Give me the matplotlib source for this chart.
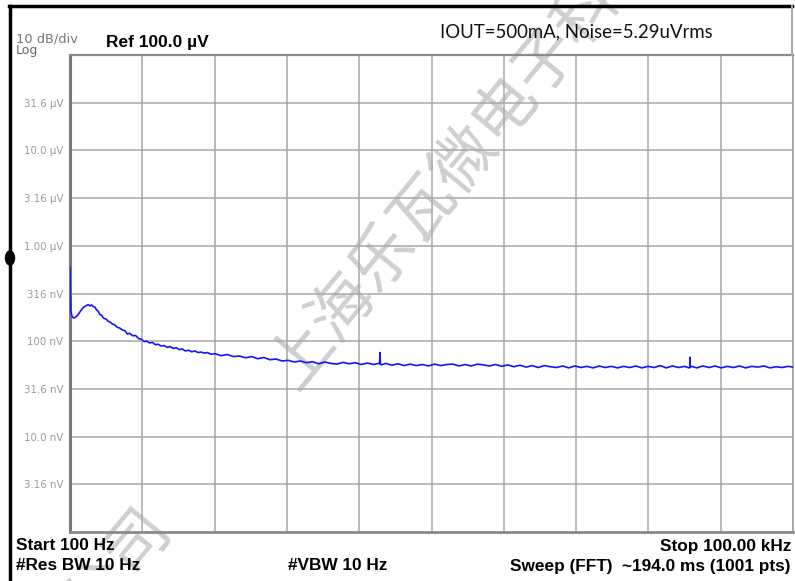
import matplotlib
matplotlib.use("Agg")
import matplotlib.pyplot as plt
from matplotlib.lines import Line2D
from matplotlib.patches import Ellipse

# Dane: częstotliwość [Hz] i poziom szumu [nV]
freq_hz = [
    100, 100.4, 100.9, 102, 103.5, 105, 107, 109, 111, 113, 115, 117, 119,
    121, 123, 125, 127, 129, 131, 133, 135, 138, 141, 144, 147, 150, 153,
    157, 161, 165, 169, 173, 177, 182, 187, 193, 198, 203, 208, 214, 220,
    226, 232, 239, 246, 253, 260, 268, 276, 284, 292, 301, 310, 320, 330,
    340, 350, 361, 372, 384,
    400, 424, 450, 477, 505, 535, 567, 601, 637, 675, 716, 759, 804, 852,
    903, 957, 1015, 1076, 1140, 1209, 1281, 1358, 1440, 1526, 1618, 1715,
    1818, 1905, 1925, 1933, 1941, 1960, 2043, 2165, 2295, 2433, 2579, 2734,
    2898, 3072, 3256, 3451, 3658, 3878, 4110, 4357, 4619, 4896, 5190, 5501,
    5831, 6181, 6552, 6945, 7362, 7803, 8272, 8768, 9294, 9852, 10440,
    11070, 11730, 12440, 13180, 13970, 14810, 15700, 16640, 17640, 18700,
    19820, 21010, 22270, 23610, 25020, 26520, 28120, 29800, 31590, 33490,
    35500, 37000, 37300, 37380, 37460, 38000, 39890, 42280, 44820, 47510,
    50360, 53380, 56580, 59980, 63580, 67390, 71430, 75720, 80260, 85080,
    90180, 95600, 100000,
]
noise_nv = [
    600, 300, 205, 182, 175, 177, 185, 196, 210, 222, 231, 237, 242,
    234, 240, 230, 227, 212, 206, 190, 188, 174, 171, 162, 158, 151, 149,
    140, 137, 131, 129, 119, 121, 114, 115, 106, 105, 99, 100, 96, 97,
    92, 93, 89, 90, 86, 88, 84, 85.5, 81.5, 83, 79, 80.5, 77.5, 79,
    76, 77, 75, 76, 73,
    74, 70.5, 72.5, 69, 70, 67, 69, 65.5, 67.5, 64, 65, 62, 63, 60.5,
    62, 59.5, 61, 58, 60.5, 58.5, 57.5, 60, 58, 59.5, 57, 59,
    57, 58.5, 58, 76, 57.5, 56.5, 58.5, 56, 58, 55.5, 57.5, 55.5,
    57, 55, 57.5, 55.5, 57, 57.5, 55, 57, 55, 57.5, 56.5, 55,
    57, 54.5, 56.5, 54, 56, 53.5, 55.5, 53, 55.5, 54, 53,
    55, 52.5, 55, 53, 54.5, 52.5, 55, 53, 54.5, 52.5,
    54.5, 53, 55, 52.5, 54.5, 53, 55.5, 52.5, 55, 53,
    54.5, 52.5, 54, 68, 53, 54.5, 52.5, 55, 53, 55,
    52.5, 54.5, 53, 55, 52.5, 54.5, 53.5, 55, 52.5, 54,
    53, 54.5, 53.5,
]

# Etykiety osi Y (co 10 dB)
ytick_values = [31.6e-6, 10.0e-6, 3.16e-6, 1.00e-6, 316e-9, 100e-9, 31.6e-9, 10.0e-9, 3.16e-9]
ytick_labels = ["31.6 µV", "10.0 µV", "3.16 µV", "1.00 µV", "316 nV", "100 nV", "31.6 nV", "10.0 nV", "3.16 nV"]

plt.rcParams["font.family"] = ["Liberation Sans", "DejaVu Sans"]

W, H = 795, 581
fig = plt.figure(figsize=(W / 100, H / 100), dpi=100)


def fx(x):
    return x / W


def fy(y):
    return 1 - y / H


ax = fig.add_axes([fx(70), fy(532), 723 / W, 477 / H])
ax.set_facecolor("none")

# Przebieg szumu
ax.plot(freq_hz, [v * 1e-9 for v in noise_nv], color="#1414ff", lw=1.2, zorder=3)

ax.set_xscale("log")
ax.set_yscale("log")
ax.set_xlim(100, 100000)
ax.set_ylim(1e-9, 1e-4)

# Siatka 10 x 10 działek
xgrid = [100 * 10 ** (0.3 * k) for k in range(1, 10)]
ax.set_xticks(xgrid)
ax.set_xticks([], minor=True)
ax.set_xticklabels([])
ax.set_yticks(ytick_values)
ax.set_yticks([], minor=True)
ax.set_yticklabels(ytick_labels, fontsize=7.4, color="#9a9a9a", family=["DejaVu Sans"])
ax.tick_params(axis="both", length=0)
ax.tick_params(axis="y", pad=5)
ax.grid(True, which="major", color="#a8a8a8", lw=1.1)

for side, col, lw in [("left", "#7a7a7a", 2.2), ("bottom", "#8a8a8a", 2.0),
                      ("top", "#8a8a8a", 1.6), ("right", "#a8a8a8", 1.4)]:
    ax.spines[side].set_color(col)
    ax.spines[side].set_linewidth(lw)

# Ramka okna
fig.add_artist(Line2D([fx(9), fx(792)], [fy(6), fy(6)], color="black", lw=2.5))
fig.add_artist(Line2D([fx(9.5), fx(9.5)], [fy(6), fy(581)], color="black", lw=2.5))
fig.add_artist(Line2D([fx(792), fx(792)], [fy(6), fy(55)], color="#a8a8a8", lw=1.4))
fig.add_artist(Ellipse((fx(10), fy(258)), 9 / W, 14 / H, transform=fig.transFigure, color="black"))

# Znak wodny
wm = dict(rotation=50.4, rotation_mode="anchor", ha="center", va="center",
          fontsize=46, color="#cfcfcf", family=["Noto Sans CJK SC"], zorder=-1)
fig.text(fx(466), fy(159), "上海乐瓦微电子科技", **wm)
fig.text(fx(119), fy(566), "公司", **wm)

# Opisy analizatora
fig.text(fx(16), fy(39.5), "10 dB/div", fontsize=9.4, color="#777777", va="center", family=["DejaVu Sans"])
fig.text(fx(16), fy(50.5), "Log", fontsize=9, color="#6a6a6a", va="center", family=["DejaVu Sans"])
fig.text(fx(106), fy(42), "Ref 100.0 µV", fontsize=12.5, fontweight="bold", va="center")
fig.text(fx(576), fy(32), "IOUT=500mA, Noise=5.29uVrms", fontsize=13.4, family=["Lato", "DejaVu Sans"],
         color="#111111", ha="center", va="center")

bold = dict(fontsize=12.4, fontweight="bold", va="center")
fig.text(fx(16), fy(546), "Start 100 Hz", **bold)
fig.text(fx(16), fy(566), "#Res BW 10 Hz", **bold)
fig.text(fx(338), fy(566), "#VBW 10 Hz", ha="center", **bold)
fig.text(fx(791), fy(546), "Stop 100.00 kHz", ha="right", **bold)
fig.text(fx(791), fy(566), "Sweep (FFT)  ~194.0 ms (1001 pts)", ha="right", **bold)

fig.savefig("out.png", dpi=100)
